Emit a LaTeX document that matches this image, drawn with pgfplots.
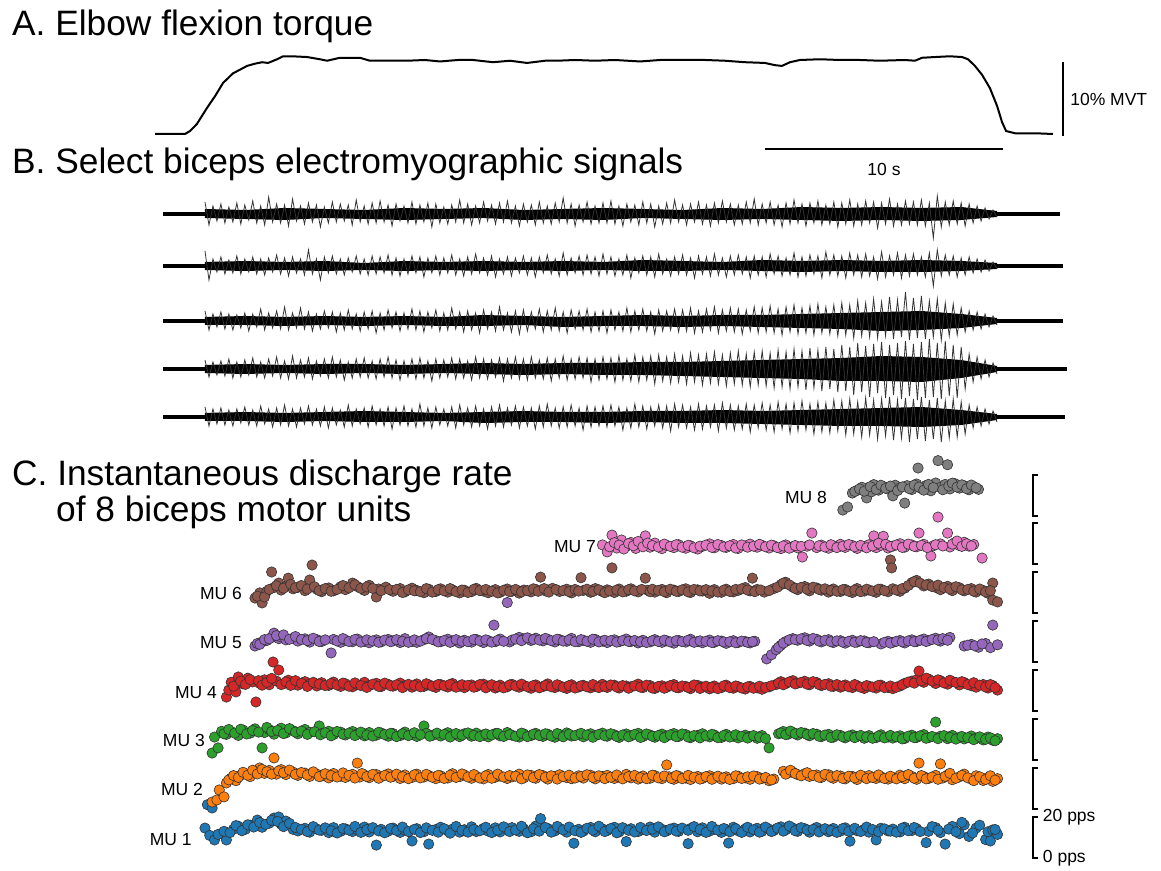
\documentclass[border=0pt]{standalone}
\usepackage{fontspec}
\setmainfont{Liberation Sans}
\usepackage{pgfplots}
\pgfplotsset{compat=1.18}

\definecolor{mua}{HTML}{1F77B4}
\definecolor{mub}{HTML}{FF7F0E}
\definecolor{muc}{HTML}{2CA02C}
\definecolor{mud}{HTML}{D62728}
\definecolor{mue}{HTML}{9467BD}
\definecolor{muf}{HTML}{8C564B}
\definecolor{mug}{HTML}{E377C2}
\definecolor{muh}{HTML}{7F7F7F}

\newcommand\titlefont{\fontsize{35.3}{40}\selectfont}
\newcommand\labfont{\fontsize{17.5}{20}\selectfont}

\pgfplotsset{
  base/.style={scale only axis, hide axis, clip=false},
  tax/.style={base, xmin=0, xmax=40, width=952pt},
  emgax/.style={base, xmin=-10.55, xmax=214.83, width=897pt, ymin=-25, ymax=25, height=50pt},
  muax/.style={tax, ymin=0, ymax=20, height=41pt},
  mup/.style={only marks, mark=*, mark size=5.2pt, mark options={fill=#1, draw=black!80, line width=0.6pt}},
  zig/.style={black!80, line width=0.8pt},
  quiet/.style={black, line width=4pt},
  core/.style={fill=black, draw=none},
}
% scale bracket = 20 pps
\newcommand\bracket{\draw[line width=1.6pt] (axis cs:37.1,20) -- (axis cs:36.89,20) -- (axis cs:36.89,0) -- (axis cs:37.1,0);}

\begin{document}
\begin{tikzpicture}
\useasboundingbox (0,0) rectangle (1161pt,870pt);

\node[anchor=base west, inner sep=0, font=\titlefont] at (12pt,834pt) {A. Elbow flexion torque};
\node[anchor=base west, inner sep=0, font=\titlefont] at (12pt,696pt) {B. Select biceps electromyographic signals};
\node[anchor=base west, inner sep=0, font=\titlefont] at (12pt,384pt) {C. Instantaneous discharge rate};
\node[anchor=base west, inner sep=0, font=\titlefont] at (56pt,348pt) {of 8 biceps motor units};

%% A: torque (% MVT vs s)
\begin{axis}[tax, ymin=-5, ymax=12, height=125.8pt, at={(155pt,699pt)}]
\addplot[black, line width=2pt] coordinates {
(0,0)(1.26,0)(1.47,0.4)(1.76,1.35)(2.18,3.5)(2.52,5.1)(2.86,6.9)(3.28,8.2)(3.87,9.2)(4.2,9.5)
(4.5,9.7)(4.75,9.6)(5.13,10.1)(5.38,10.5)(5.76,10.5)(6.39,10.4)(6.93,10.1)(7.23,9.9)(7.77,10.3)
(8.61,10.3)(9.03,9.9)(9.66,9.9)(10.59,9.9)(11.34,10.0)(11.97,9.8)(12.73,10.0)(13.36,10.0)(14.2,9.7)
(14.92,9.9)(15.63,9.6)(16.39,9.9)(16.89,9.9)(17.65,10.0)(18.49,9.9)(19.33,10.0)(20.38,9.8)(21.22,10.0)
(22.27,10.0)(23.11,10.0)(23.95,9.9)(24.79,9.7)(25.63,9.6)(26.05,9.3)(26.34,9.2)(26.68,9.7)(27.1,10.0)
(27.94,10.1)(28.78,10.0)(29.62,10.0)(30.46,9.9)(31.51,10.0)(31.93,9.9)(32.23,10.3)(32.77,10.4)
(33.4,10.5)(33.91,10.4)(34.16,10.1)(34.45,9.2)(34.75,8.0)(35.08,6.2)(35.38,3.8)(35.59,1.6)
(35.76,0.4)(36.13,0.1)(36.97,0.1)(37.73,0)};
\draw[line width=1.5pt] (axis cs:25.63,-2.03) -- (axis cs:35.63,-2.03);
\node[font=\labfont] at (axis cs:30.63,-4.86) {10 s};
\draw[line width=1.5pt] (axis cs:38.15,9.73) -- (axis cs:38.15,-0.27);
\node[font=\labfont, anchor=west, inner sep=0] at (axis cs:38.45,4.6) {10\% MVT};
\end{axis}

%% B: EMG traces (sample index vs amplitude)
\begin{axis}[emgax, at={(163pt,631pt)}]
\addplot[quiet] coordinates {(-10.55,0)(0,0)};
\addplot[quiet] coordinates {(199,0)(214.8,0)};
\addplot[core] coordinates {(0,5)(10,4)(20,6)(30,5)(40,4)(50,6)(60,5)(70,6)(80,4)(90,5)(100,6)(110,5)(120,4)(130,6)(140,5)(150,7)(160,6)(170,7)(180,6)(190,7)(199,3)
(199,-3)(190,-6)(180,-7)(170,-6)(160,-7)(150,-6)(140,-5)(130,-6)(120,-5)(110,-4)(100,-6)(90,-5)(80,-6)(70,-4)(60,-5)(50,-6)(40,-5)(30,-4)(20,-6)(10,-5)(0,-4)};
\addplot[zig] table[x expr=\coordindex, y=v, row sep=\\] {v\\
12\\-11\\8\\-7\\10\\-9\\7\\-8\\11\\-10\\9\\-6\\13\\-9\\8\\-11\\17\\-8\\10\\-9\\
9\\-12\\15\\-7\\8\\-10\\11\\-8\\9\\-13\\7\\-9\\12\\-8\\10\\-7\\9\\-11\\14\\-8\\
8\\-10\\11\\-9\\13\\-8\\9\\-12\\10\\-7\\8\\-9\\12\\-10\\9\\-8\\11\\-13\\10\\-9\\
7\\-10\\9\\-8\\14\\-9\\10\\-11\\8\\-9\\12\\-7\\9\\-10\\11\\-8\\13\\-9\\8\\-12\\
10\\-8\\9\\-11\\12\\-9\\8\\-10\\11\\-8\\16\\-9\\10\\-12\\9\\-8\\12\\-10\\8\\-9\\
11\\-9\\13\\-10\\8\\-12\\10\\-8\\9\\-11\\12\\-9\\10\\-13\\8\\-10\\11\\-9\\14\\-8\\
9\\-11\\10\\-8\\12\\-10\\9\\-12\\11\\-9\\13\\-8\\10\\-11\\9\\-10\\12\\-9\\15\\-11\\
10\\-9\\12\\-11\\9\\-13\\11\\-10\\14\\-9\\10\\-12\\11\\-9\\13\\-11\\9\\-10\\12\\-13\\
11\\-10\\14\\-12\\10\\-11\\13\\-9\\12\\-14\\11\\-10\\15\\-12\\10\\-11\\13\\-10\\12\\-11\\
14\\-12\\11\\-24\\18\\-13\\12\\-11\\13\\-10\\11\\-12\\10\\-9\\8\\-7\\6\\-5\\4\\-3\\
};
\end{axis}

\begin{axis}[emgax, at={(163pt,579pt)}]
\addplot[quiet] coordinates {(-10.55,0)(0,0)};
\addplot[quiet] coordinates {(199,0)(215.6,0)};
\addplot[core] coordinates {(0,4)(10,5)(20,4)(30,5)(40,3)(50,5)(60,4)(70,5)(80,4)(90,5)(100,4)(110,6)(120,5)(130,4)(140,6)(150,5)(160,6)(170,5)(180,6)(190,5)(199,3)
(199,-3)(190,-5)(180,-6)(170,-6)(160,-5)(150,-6)(140,-5)(130,-4)(120,-5)(110,-5)(100,-4)(90,-5)(80,-4)(70,-5)(60,-4)(50,-5)(40,-4)(30,-5)(20,-4)(10,-5)(0,-4)};
\addplot[zig] table[x expr=\coordindex, y=v, row sep=\\] {v\\
15\\-14\\7\\-6\\9\\-8\\6\\-7\\10\\-8\\7\\-6\\9\\-8\\7\\-9\\8\\-6\\11\\-8\\
8\\-10\\9\\-7\\7\\-9\\16\\-8\\7\\-14\\9\\-7\\10\\-8\\7\\-9\\8\\-6\\10\\-8\\
7\\-9\\10\\-8\\9\\-7\\11\\-9\\8\\-10\\7\\-8\\10\\-7\\9\\-11\\8\\-7\\10\\-9\\
8\\-7\\11\\-9\\7\\-10\\9\\-8\\12\\-7\\8\\-9\\10\\-11\\7\\-8\\9\\-10\\8\\-7\\
10\\-9\\8\\-11\\9\\-7\\11\\-8\\7\\-10\\13\\-9\\8\\-7\\10\\-9\\11\\-8\\9\\-10\\
12\\-8\\9\\-10\\7\\-9\\11\\-12\\8\\-7\\10\\-9\\9\\-11\\12\\-8\\7\\-10\\9\\-8\\
11\\-9\\8\\-12\\10\\-8\\9\\-10\\12\\-9\\8\\-11\\10\\-9\\11\\-8\\9\\-12\\10\\-9\\
9\\-11\\12\\-8\\10\\-10\\8\\-9\\13\\-11\\9\\-10\\11\\-8\\10\\-12\\14\\-9\\11\\-10\\
10\\-12\\13\\-9\\11\\-11\\12\\-10\\9\\-13\\14\\-11\\10\\-9\\13\\-12\\11\\-10\\12\\-9\\
9\\-11\\13\\-20\\16\\-10\\11\\-9\\10\\-11\\8\\-9\\9\\-7\\7\\-6\\6\\-5\\4\\-3\\
};
\end{axis}

\begin{axis}[emgax, at={(163pt,524pt)}]
\addplot[quiet] coordinates {(-10.55,0)(0,0)};
\addplot[quiet] coordinates {(199,0)(215.6,0)};
\addplot[core] coordinates {(0,4)(10,5)(20,4)(30,5)(40,4)(50,5)(60,4)(70,6)(80,5)(90,4)(100,5)(110,6)(120,5)(130,6)(140,6)(150,7)(160,8)(170,9)(180,10)(190,7)(199,3)
(199,-3)(190,-7)(180,-9)(170,-10)(160,-8)(150,-7)(140,-6)(130,-5)(120,-6)(110,-5)(100,-5)(90,-6)(80,-4)(70,-5)(60,-5)(50,-4)(40,-5)(30,-4)(20,-5)(10,-4)(0,-4)};
\addplot[zig] table[x expr=\coordindex, y=v, row sep=\\] {v\\
10\\-9\\7\\-6\\9\\-8\\7\\-9\\6\\-7\\8\\-10\\7\\-6\\12\\-9\\8\\-7\\10\\-8\\
14\\-9\\8\\-7\\13\\-8\\9\\-10\\7\\-8\\10\\-7\\9\\-11\\8\\-9\\11\\-8\\7\\-10\\
9\\-8\\10\\-12\\8\\-9\\11\\-7\\9\\-10\\8\\-8\\12\\-9\\10\\-11\\9\\-7\\11\\-10\\
8\\-9\\13\\-8\\9\\-11\\10\\-9\\8\\-12\\11\\-8\\9\\-10\\14\\-9\\8\\-11\\10\\-13\\
11\\-10\\9\\-8\\12\\-11\\10\\-9\\13\\-10\\9\\-12\\11\\-8\\10\\-9\\12\\-11\\9\\-10\\
10\\-12\\11\\-9\\9\\-10\\13\\-11\\10\\-9\\12\\-10\\9\\-13\\11\\-10\\10\\-9\\12\\-11\\
11\\-10\\13\\-12\\10\\-11\\12\\-9\\14\\-12\\11\\-10\\13\\-11\\12\\-13\\11\\-10\\14\\-12\\
13\\-11\\15\\-12\\12\\-14\\14\\-11\\16\\-13\\13\\-12\\15\\-14\\17\\-12\\14\\-13\\16\\-15\\
18\\-14\\16\\-17\\20\\-15\\18\\-16\\22\\-17\\19\\-15\\24\\-18\\21\\-16\\29\\-19\\23\\-17\\
25\\-18\\20\\-16\\22\\-19\\18\\-15\\17\\-14\\13\\-11\\10\\-9\\9\\-8\\7\\-6\\5\\-4\\
};
\end{axis}

\begin{axis}[emgax, at={(163pt,476pt)}]
\addplot[quiet] coordinates {(-10.55,0)(0,0)};
\addplot[quiet] coordinates {(199,0)(216.6,0)};
\addplot[core] coordinates {(0,4)(10,5)(20,4)(30,5)(40,5)(50,4)(60,5)(70,6)(80,5)(90,6)(100,6)(110,7)(120,7)(130,8)(140,9)(150,10)(160,11)(170,13)(180,12)(190,9)(199,3)
(199,-3)(190,-9)(180,-13)(170,-12)(160,-12)(150,-10)(140,-9)(130,-8)(120,-7)(110,-6)(100,-6)(90,-5)(80,-6)(70,-5)(60,-4)(50,-5)(40,-4)(30,-5)(20,-4)(10,-5)(0,-4)};
\addplot[zig] table[x expr=\coordindex, y=v, row sep=\\] {v\\
9\\-8\\7\\-6\\8\\-7\\10\\-9\\7\\-8\\9\\-6\\11\\-8\\7\\-9\\10\\-7\\12\\-9\\
8\\-10\\13\\-9\\9\\-8\\11\\-10\\8\\-7\\10\\-9\\12\\-8\\9\\-11\\7\\-9\\10\\-8\\
11\\-9\\8\\-10\\10\\-8\\12\\-9\\9\\-11\\8\\-8\\10\\-10\\11\\-9\\8\\-12\\10\\-9\\
9\\-8\\11\\-10\\10\\-9\\8\\-11\\12\\-9\\10\\-10\\9\\-8\\11\\-12\\10\\-9\\12\\-10\\
10\\-11\\12\\-9\\9\\-10\\11\\-12\\10\\-9\\13\\-11\\10\\-10\\12\\-9\\11\\-13\\10\\-11\\
12\\-10\\11\\-13\\13\\-11\\10\\-12\\14\\-13\\12\\-11\\13\\-15\\14\\-12\\12\\-14\\15\\-13\\
13\\-15\\16\\-13\\14\\-16\\15\\-14\\17\\-15\\14\\-17\\16\\-15\\18\\-16\\15\\-18\\17\\-16\\
18\\-17\\16\\-19\\19\\-18\\17\\-20\\20\\-18\\18\\-21\\21\\-19\\19\\-22\\22\\-20\\20\\-23\\
24\\-22\\22\\-26\\26\\-23\\23\\-28\\25\\-24\\27\\-29\\24\\-26\\26\\-30\\28\\-27\\25\\-31\\
27\\-29\\30\\-28\\26\\-30\\28\\-27\\24\\-29\\22\\-20\\15\\-13\\12\\-10\\9\\-8\\6\\-5\\
};
\end{axis}

\begin{axis}[emgax, at={(163pt,428pt)}]
\addplot[quiet] coordinates {(-10.55,0)(0,0)};
\addplot[quiet] coordinates {(199,0)(216.1,0)};
\addplot[core] coordinates {(0,4)(10,5)(20,4)(30,5)(40,6)(50,5)(60,4)(70,5)(80,6)(90,5)(100,5)(110,6)(120,6)(130,7)(140,6)(150,7)(160,8)(170,9)(180,10)(190,7)(199,3)
(199,-3)(190,-8)(180,-10)(170,-9)(160,-9)(150,-8)(140,-7)(130,-6)(120,-6)(110,-5)(100,-6)(90,-5)(80,-5)(70,-6)(60,-4)(50,-5)(40,-5)(30,-4)(20,-5)(10,-4)(0,-4)};
\addplot[zig] table[x expr=\coordindex, y=v, row sep=\\] {v\\
10\\-9\\8\\-7\\9\\-8\\7\\-9\\8\\-6\\10\\-8\\7\\-9\\11\\-7\\8\\-10\\9\\-8\\
12\\-9\\8\\-10\\9\\-7\\11\\-8\\8\\-9\\10\\-11\\9\\-8\\7\\-10\\12\\-9\\8\\-7\\
9\\-10\\11\\-8\\8\\-9\\10\\-12\\9\\-8\\11\\-9\\8\\-10\\13\\-9\\9\\-11\\10\\-8\\
8\\-9\\10\\-11\\12\\-8\\9\\-10\\11\\-9\\8\\-12\\10\\-9\\12\\-10\\9\\-8\\11\\-11\\
10\\-9\\9\\-12\\11\\-10\\13\\-9\\9\\-11\\10\\-10\\12\\-9\\9\\-13\\11\\-10\\10\\-9\\
11\\-10\\12\\-9\\10\\-13\\9\\-11\\13\\-10\\11\\-12\\10\\-9\\12\\-11\\11\\-14\\13\\-10\\
12\\-11\\10\\-13\\13\\-12\\11\\-10\\12\\-14\\14\\-11\\12\\-13\\11\\-12\\13\\-15\\12\\-11\\
14\\-13\\12\\-15\\15\\-12\\13\\-16\\14\\-14\\16\\-13\\13\\-17\\15\\-15\\14\\-16\\17\\-14\\
16\\-18\\18\\-17\\15\\-20\\19\\-18\\17\\-22\\18\\-19\\20\\-23\\17\\-21\\19\\-25\\18\\-22\\
20\\-24\\17\\-22\\19\\-25\\16\\-21\\18\\-20\\15\\-17\\12\\-11\\10\\-9\\8\\-7\\6\\-5\\
};
\end{axis}

%% C: instantaneous discharge rate (pps vs s), one axis per motor unit
\begin{axis}[muax, at={(155pt,12pt)}]
\addplot[mup=mua] coordinates {
(2.1,14.6)(2.2,26)(2.3,11)(2.4,24.4)(2.5,8.8)(2.8,12)(3.0,8.8)(3.3,14)(3.5,15.5)(3.8,14)(4.0,16)(4.3,18.5)(4.5,15)(4.8,17)(5.0,19.5)(5.2,20)(5.3,16.5)(5.5,18)(5.8,14)
(6.0,13.2)(6.3,14.5)(6.5,12.6)(6.8,14.1)(7.0,13.5)(7.3,12.4)(7.5,14.8)(7.8,13.0)(8.0,14.2)(8.3,12.9)(8.5,13.8)(8.8,15.1)
(9.0,12.7)(9.3,6.3)(9.5,14.0)(9.8,13.1)(10.0,14.6)(10.3,12.5)(10.5,13.6)(10.8,8.3)(11.0,14.3)(11.3,12.8)(11.5,6.8)(11.8,13.9)
(12.0,15.0)(12.3,13.2)(12.5,14.1)(12.8,12.6)(13.0,13.8)(13.3,15.2)(13.5,12.9)(13.8,14.4)(14.0,13.1)(14.3,14.7)(14.5,12.7)(14.8,13.9)
(15.0,14.8)(15.3,13.0)(15.5,14.2)(15.8,12.8)(16.0,15.6)(16.2,19.2)(16.5,14.4)(16.8,13.2)(17.0,14.5)(17.3,12.6)(17.6,7.2)(17.8,14.0)
(18.0,13.1)(18.3,14.9)(18.5,12.8)(18.8,14.2)(19.0,13.4)(19.3,15.0)(19.5,12.7)(19.8,8.0)(20.0,14.3)(20.3,12.9)(20.5,13.8)(20.8,15.1)
(21.0,12.6)(21.3,14.0)(21.5,13.2)(21.8,14.6)(22.0,13.0)(22.4,7.0)(22.5,14.4)(22.8,12.8)(23.0,14.7)(23.3,13.1)(23.5,14.0)(23.8,12.5)
(24.0,13.9)(24.1,7.3)(24.3,15.0)(24.5,13.3)(24.8,14.2)(25.0,12.7)(25.3,14.5)(25.5,13.0)(25.8,14.1)(26.0,13.4)(26.3,15.2)(26.5,13.7)(26.8,14.6)
(27.0,13.0)(27.3,14.3)(27.5,12.6)(27.8,14.9)(28.0,13.5)(28.3,12.8)(28.5,14.4)(28.8,13.1)(29.0,14.7)(29.2,8.2)(29.5,13.3)(29.8,14.0)
(30.0,12.6)(30.3,8.8)(30.5,14.5)(30.8,13.2)(31.0,14.1)(31.3,12.7)(31.5,15.0)(31.8,13.4)(32.0,14.3)(32.4,7.5)(32.5,13.0)(32.8,14.8)
(33.0,12.4)(33.2,6.8)(33.5,15.4)(33.8,11.9)(34.0,16.2)(34.2,10.5)(34.5,14.6)(34.9,9.0)(35.0,12.8)(35.1,8.3)(35.2,13.7)(35.4,11.5)};
\addplot[mup=mua] coordinates {
(2.65,11.5)(2.9,13)(3.15,12.4)(3.4,15.8)(3.65,13.3)(3.9,16.2)(4.15,15.1)(4.4,17.3)(4.65,16.4)(4.9,18.4)(5.15,17.8)(5.4,15.3)(5.65,16.9)(5.9,14.9)
(6.15,14.0)(6.4,12.9)(6.65,15.3)(6.9,13.6)(7.15,14.7)(7.4,13.3)(7.65,12.2)(7.9,14.4)(8.15,13.6)(8.4,15.4)(8.65,12.5)(8.9,13.9)
(9.15,14.8)(9.4,13.2)(9.65,12.3)(9.9,14.4)(10.15,13.4)(10.4,15.1)(10.65,12.9)(10.9,14.0)(11.15,12.4)(11.4,14.7)(11.65,13.5)(11.9,12.6)
(12.15,14.3)(12.4,12.1)(12.65,15.4)(12.9,13.5)(13.15,12.6)(13.4,14.0)(13.65,13.3)(13.9,15.0)(14.15,12.4)(14.4,13.6)(14.65,15.2)(14.9,12.9)
(15.15,13.7)(15.4,15.5)(15.65,12.3)(15.9,14.3)(16.15,13.1)(16.4,14.9)(16.65,12.6)(16.9,15.4)(17.15,13.7)(17.4,15.1)(17.65,13.3)(17.9,12.5)
(18.15,14.5)(18.4,13.6)(18.65,15.5)(18.9,12.9)(19.15,14.4)(19.4,12.3)(19.65,14.8)(19.9,13.5)(20.15,12.7)(20.4,14.9)(20.65,13.4)(20.9,14.1)
(21.15,15.2)(21.4,12.8)(21.65,14.1)(21.9,13.1)(22.15,14.6)(22.4,13.5)(22.65,15.3)(22.9,13.9)(23.15,12.5)(23.4,15.4)(23.65,13.6)(23.9,14.4)
(24.15,12.8)(24.4,14.3)(24.65,12.5)(24.9,15.0)(25.15,13.8)(25.4,12.6)(25.65,15.1)(25.9,12.9)(26.15,14.6)(26.4,13.1)(26.65,15.6)(26.9,13.3)
(27.15,14.8)(27.4,13.7)(27.65,14.0)(27.9,12.7)(28.15,14.3)(28.4,13.4)(28.65,12.5)(28.9,14.4)(29.15,13.0)(29.4,14.5)(29.65,12.9)(29.9,15.1)
(30.15,13.9)(30.4,12.8)(30.65,14.2)(30.9,13.1)(31.15,12.6)(31.4,14.6)(31.65,13.3)(31.9,14.9)(32.15,12.9)(32.65,15.3)(32.9,13.6)
(33.35,14.1)(33.65,12.8)(33.9,17.4)(34.35,12.2)(34.65,16.0)(35.3,13.9)};
\bracket
\node[font=\labfont, anchor=east, inner sep=0] at (axis cs:1.55,8.8) {MU 1};
\node[font=\labfont, anchor=west, inner sep=0] at (axis cs:37.3,20) {20 pps};
\node[font=\labfont, anchor=west, inner sep=0] at (axis cs:37.3,0) {0 pps};
\end{axis}

\begin{axis}[muax, at={(155pt,61pt)}]
\addplot[mup=mub] coordinates {
(2.4,3.4)(2.6,4.4)(2.7,9.3)(2.9,5.9)(3.0,12.7)(3.2,15.0)(3.4,13.8)(3.6,16.5)(3.8,17.2)(4.0,15.8)(4.2,18.5)(4.4,20.0)(4.6,17.4)(4.8,18.8)(5.0,24.9)(5.1,17.0)(5.3,19.2)(5.5,16.8)(5.8,18.0)
(6.0,16.4)(6.3,17.5)(6.5,15.9)(6.8,17.0)(7.0,16.1)(7.3,15.2)(7.5,17.3)(7.8,16.0)(8.0,15.4)(8.3,16.9)(8.5,22.4)(8.6,15.6)(8.8,16.6)
(9.0,15.3)(9.3,16.8)(9.5,15.7)(9.8,17.1)(10.0,15.9)(10.3,14.9)(10.5,16.6)(10.8,15.4)(11.0,17.0)(11.3,15.6)(11.5,16.3)(11.8,14.8)
(12.0,16.2)(12.3,15.1)(12.5,17.2)(12.8,15.8)(13.0,16.6)(13.3,15.0)(13.5,16.0)(13.8,14.7)(14.0,16.8)(14.3,15.5)(14.5,16.1)(14.8,14.9)
(15.0,15.7)(15.3,17.0)(15.5,15.2)(15.8,16.4)(16.0,15.0)(16.3,16.3)(16.5,14.6)(16.8,15.9)(17.0,16.7)(17.3,15.3)(17.5,14.8)(17.8,16.2)
(18.0,15.1)(18.3,16.5)(18.5,14.7)(18.8,15.8)(19.0,16.4)(19.3,14.9)(19.5,15.6)(19.8,16.9)(20.0,15.2)(20.3,14.6)(20.5,16.1)(20.8,15.0)
(21.0,16.3)(21.3,14.8)(21.5,21.5)(21.6,15.7)(21.8,14.5)(22.0,16.0)(22.3,15.1)(22.5,14.4)(22.8,15.9)(23.0,14.9)(23.3,16.2)(23.5,15.3)(23.8,14.6)
(24.0,15.7)(24.3,14.8)(24.5,16.0)(24.8,15.2)(25.0,14.5)(25.3,15.8)(25.5,14.9)(25.8,13.8)(26.0,14.6)(26.4,18.4)(26.6,17.6)(26.8,18.0)
(27.0,16.8)(27.3,17.2)(27.5,15.9)(27.8,16.6)(28.0,15.4)(28.3,16.7)(28.5,15.0)(28.8,16.1)(29.0,14.7)(29.3,15.9)(29.5,14.4)(29.8,15.6)
(30.0,16.3)(30.3,14.9)(30.5,15.7)(30.8,14.6)(31.0,15.4)(31.3,16.5)(31.5,14.8)(31.8,15.9)(32.0,14.5)(32.1,22.4)(32.3,15.8)(32.5,14.9)(32.8,16.4)
(33.0,22.0)(33.1,15.1)(33.3,16.6)(33.5,14.3)(33.8,15.7)(34.0,17.0)(34.3,14.6)(34.5,16.2)(34.8,13.9)(35.0,15.4)(35.2,13.5)(35.4,14.8)};
\addplot[mup=mub] coordinates {
(3.1,14.2)(3.3,16.3)(3.5,15.4)(3.7,17.9)(3.9,16.5)(4.1,18.9)(4.3,17.1)(4.5,19.3)(4.7,18.2)(4.9,17.0)(5.2,18.6)(5.4,17.7)(5.65,19.0)(5.9,16.9)
(6.15,17.8)(6.4,16.6)(6.65,18.1)(6.9,15.8)(7.15,17.2)(7.4,16.3)(7.65,15.6)(7.9,17.6)(8.15,16.4)(8.4,15.1)(8.7,17.3)(8.9,15.8)
(9.15,16.9)(9.4,15.0)(9.65,16.4)(9.9,15.5)(10.15,17.0)(10.4,15.8)(10.65,14.8)(10.9,16.7)(11.15,15.2)(11.4,16.9)(11.65,15.5)(11.9,16.4)
(12.15,14.9)(12.4,16.5)(12.65,15.4)(12.9,17.1)(13.15,15.6)(13.4,16.8)(13.65,15.1)(13.9,16.2)(14.15,15.0)(14.4,17.0)(14.65,15.6)(14.9,16.3)
(15.15,16.0)(15.4,14.7)(15.65,16.6)(15.9,15.3)(16.15,16.8)(16.4,15.5)(16.65,16.2)(16.9,14.6)(17.15,15.8)(17.4,16.5)(17.65,15.1)(17.9,15.9)
(18.15,16.7)(18.4,15.4)(18.65,16.2)(18.9,14.8)(19.15,15.5)(19.4,16.6)(19.65,14.7)(19.9,15.8)(20.15,16.4)(20.4,15.3)(20.65,14.8)(20.9,16.5)
(21.15,15.2)(21.4,16.1)(21.7,14.9)(21.9,16.3)(22.15,14.8)(22.4,16.4)(22.65,15.5)(22.9,14.6)(23.15,15.8)(23.4,14.5)(23.65,16.0)(23.9,15.2)
(24.15,14.4)(24.4,16.2)(24.65,14.9)(24.9,15.7)(25.15,16.1)(25.4,14.6)(25.65,15.4)(25.9,14.2)(26.5,17.0)(26.7,18.9)(26.9,17.3)
(27.15,16.2)(27.4,17.7)(27.65,16.4)(27.9,15.5)(28.15,16.9)(28.4,15.6)(28.65,16.3)(28.9,14.9)(29.15,16.0)(29.4,15.2)(29.65,16.5)(29.9,14.8)
(30.15,15.4)(30.4,16.6)(30.65,14.9)(30.9,16.0)(31.15,14.7)(31.4,15.8)(31.65,16.8)(31.9,15.0)(32.2,16.3)(32.4,14.7)(32.65,15.6)(32.9,14.5)
(33.2,15.9)(33.4,17.4)(33.65,15.0)(33.9,16.4)(34.15,15.2)(34.4,13.8)(34.65,15.7)(34.9,14.4)(35.1,16.2)(35.3,14.1)};
\bracket
\node[font=\labfont, anchor=east, inner sep=0] at (axis cs:2.02,9.3) {MU 2};
\end{axis}

\begin{axis}[muax, at={(155pt,110pt)}]
\addplot[mup=muc] coordinates {
(2.4,3.4)(2.5,11.2)(2.65,5.9)(2.8,14.0)(3.0,12.5)(3.2,13.8)(3.5,12.0)(3.7,14.6)(4.0,13.1)(4.2,15.2)(4.5,5.9)(4.6,13.4)(4.8,14.8)(5.0,12.6)(5.3,15.5)(5.5,13.2)(5.8,14.3)
(6.0,12.8)(6.3,14.9)(6.5,13.5)(6.9,16.6)(7.0,12.9)(7.3,14.0)(7.5,12.4)(7.8,13.6)(8.0,12.2)(8.3,13.9)(8.5,12.7)(8.8,11.8)
(9.0,13.4)(9.3,12.1)(9.5,13.2)(9.8,11.6)(10.0,12.9)(10.3,11.9)(10.5,13.6)(10.8,12.4)(11.0,11.5)(11.3,16.6)(11.4,13.0)(11.7,12.2)
(12.0,11.7)(12.3,13.3)(12.5,12.0)(12.8,11.4)(13.0,12.8)(13.3,11.6)(13.5,13.1)(13.8,12.3)(14.0,11.3)(14.3,12.9)(14.5,11.8)(14.8,13.4)
(15.0,12.1)(15.3,11.2)(15.5,12.7)(15.8,11.9)(16.0,13.0)(16.3,11.5)(16.5,12.6)(16.8,11.1)(17.0,12.4)(17.3,13.2)(17.5,11.7)(17.8,12.5)
(18.0,11.3)(18.3,12.8)(18.5,11.9)(18.8,13.1)(19.0,11.6)(19.3,12.3)(19.5,11.0)(19.8,12.7)(20.0,11.8)(20.3,13.0)(20.5,11.4)(20.8,12.2)
(21.0,11.1)(21.3,12.6)(21.5,11.7)(21.8,12.9)(22.0,11.5)(22.3,12.4)(22.5,10.9)(22.8,12.0)(23.0,12.8)(23.3,11.3)(23.5,12.2)(23.8,11.0)
(24.0,12.5)(24.3,11.6)(24.5,10.8)(24.8,12.1)(25.0,11.4)(25.3,10.6)(25.5,11.9)(25.8,5.9)(26.2,12.8)(26.4,13.9)(26.6,12.6)(26.8,13.5)
(27.0,12.2)(27.3,13.1)(27.5,11.8)(27.8,12.6)(28.0,11.4)(28.3,12.5)(28.5,11.1)(28.8,12.0)(29.0,10.8)(29.3,12.2)(29.5,11.5)(29.8,10.6)
(30.0,11.9)(30.3,10.9)(30.5,12.3)(30.8,11.2)(31.0,10.7)(31.3,11.8)(31.5,10.5)(31.8,12.1)(32.0,11.0)(32.3,12.4)(32.5,10.9)(32.8,18.5)
(33.0,11.6)(33.3,10.4)(33.5,12.0)(33.8,11.1)(34.0,10.3)(34.3,11.7)(34.5,10.6)(34.8,9.8)(35.0,11.2)(35.2,9.6)(35.4,10.4)};
\addplot[mup=muc] coordinates {
(2.9,12.8)(3.1,14.9)(3.35,13.1)(3.6,15.0)(3.85,12.7)(4.1,14.4)(4.35,13.6)(4.7,15.9)(4.9,13.9)(5.15,14.4)(5.4,12.9)(5.65,15.3)(5.9,13.6)
(6.15,14.1)(6.4,12.5)(6.7,13.8)(6.95,12.3)(7.15,13.3)(7.4,11.8)(7.65,13.9)(7.9,12.6)(8.15,13.1)(8.4,11.9)(8.65,13.6)(8.9,12.2)
(9.15,11.7)(9.4,13.5)(9.65,12.4)(9.9,13.0)(10.15,11.4)(10.4,12.8)(10.65,11.9)(10.9,13.3)(11.15,12.3)(11.55,11.6)(11.85,13.1)
(12.15,12.5)(12.4,11.2)(12.65,12.9)(12.9,12.1)(13.15,13.2)(13.4,12.0)(13.65,11.4)(13.9,12.7)(14.15,12.2)(14.4,13.0)(14.65,11.5)(14.9,12.4)
(15.15,11.6)(15.4,13.1)(15.65,11.4)(15.9,12.6)(16.15,11.9)(16.4,12.8)(16.65,11.7)(16.9,12.9)(17.15,11.3)(17.4,12.6)(17.65,11.9)(17.9,13.0)
(18.15,12.2)(18.4,11.1)(18.65,12.5)(18.9,11.8)(19.15,12.8)(19.4,11.5)(19.65,12.2)(19.9,11.3)(20.15,12.5)(20.4,11.0)(20.65,12.7)(20.9,11.6)
(21.15,12.0)(21.4,10.9)(21.65,12.3)(21.9,11.4)(22.15,12.7)(22.4,11.2)(22.65,11.9)(22.9,10.8)(23.15,11.8)(23.4,12.5)(23.65,10.9)(23.9,12.0)
(24.15,11.2)(24.4,12.3)(24.65,11.5)(24.9,10.7)(25.15,11.9)(25.4,11.1)(25.65,10.5)(26.3,13.2)(26.5,12.4)(26.7,14.1)(26.9,12.8)
(27.15,13.4)(27.4,12.4)(27.65,12.9)(27.9,11.6)(28.15,12.2)(28.4,11.0)(28.65,12.3)(28.9,11.3)(29.15,11.7)(29.4,10.9)(29.65,12.0)(29.9,11.2)
(30.15,10.6)(30.4,11.7)(30.65,10.8)(30.9,12.0)(31.15,11.3)(31.4,10.3)(31.65,11.6)(31.9,10.9)(32.15,11.8)(32.4,10.6)(32.65,11.5)(32.9,10.4)
(33.15,11.9)(33.4,11.0)(33.65,10.2)(33.9,11.5)(34.15,10.9)(34.4,9.9)(34.65,11.3)(34.9,10.1)(35.1,10.8)(35.3,9.4)};
\bracket
\node[font=\labfont, anchor=east, inner sep=0] at (axis cs:2.1,9.3) {MU 3};
\end{axis}

\begin{axis}[muax, at={(155pt,159pt)}]
\addplot[mup=mud] coordinates {
(3.0,6.8)(3.1,10.2)(3.2,14.0)(3.4,9.3)(3.5,16.6)(3.7,13.2)(3.9,16.0)(4.1,14.2)(4.24,4.4)(4.4,13.5)(4.6,15.2)(4.8,12.8)(4.96,23.9)(5.1,14.6)(5.2,20.0)(5.4,13.3)(5.6,15.0)(5.8,13.9)
(6.0,12.6)(6.3,14.3)(6.5,13.1)(6.8,12.2)(7.0,13.8)(7.3,12.5)(7.5,14.1)(7.8,12.0)(8.0,13.3)(8.3,11.8)(8.5,12.9)(8.8,14.0)
(9.0,12.4)(9.3,13.5)(9.5,11.9)(9.8,13.0)(10.0,12.1)(10.3,13.6)(10.5,12.3)(10.8,11.6)(11.0,13.2)(11.3,12.0)(11.5,12.8)(11.8,11.5)
(12.0,12.9)(12.3,11.7)(12.5,13.4)(12.8,12.2)(13.0,11.4)(13.3,12.7)(13.5,11.9)(13.8,13.1)(14.0,12.0)(14.3,11.2)(14.5,12.6)(14.8,11.8)
(15.0,13.0)(15.3,11.6)(15.5,12.4)(15.8,11.1)(16.0,12.7)(16.3,11.9)(16.5,13.2)(16.8,11.4)(17.0,12.3)(17.3,11.0)(17.5,12.8)(17.8,11.7)
(18.0,12.5)(18.3,11.3)(18.5,12.1)(18.8,13.0)(19.0,11.5)(19.3,12.6)(19.5,11.2)(19.8,12.2)(20.0,11.8)(20.3,13.1)(20.5,11.4)(20.8,12.4)
(21.0,11.0)(21.3,12.3)(21.5,11.6)(21.8,12.9)(22.0,11.3)(22.3,12.0)(22.5,10.9)(22.8,12.5)(23.0,11.7)(23.3,10.8)(23.5,12.2)(23.8,11.4)
(24.0,12.6)(24.3,11.1)(24.5,11.9)(24.8,10.7)(25.0,12.0)(25.3,11.3)(25.5,10.6)(25.8,11.8)(26.1,12.9)(26.3,14.3)(26.5,13.4)(26.8,14.8)
(27.0,13.6)(27.3,14.5)(27.5,12.8)(27.8,13.9)(28.0,12.4)(28.3,13.3)(28.5,12.0)(28.8,11.6)(29.0,12.7)(29.3,11.4)(29.5,12.3)(29.8,11.0)
(30.0,12.1)(30.3,11.2)(30.5,12.6)(30.8,11.5)(31.0,10.9)(31.3,12.2)(31.5,13.5)(31.8,14.6)(32.0,15.2)(32.1,19.5)(32.3,14.0)(32.5,15.6)(32.8,13.4)
(33.0,14.8)(33.3,13.1)(33.5,14.4)(33.8,12.7)(34.0,13.9)(34.3,12.3)(34.5,11.6)(34.8,12.9)(35.0,11.2)(35.2,12.4)(35.4,10.2)};
\addplot[mup=mud] coordinates {
(3.3,12.1)(3.6,14.6)(3.8,13.0)(4.0,15.3)(4.35,14.8)(4.5,12.6)(4.7,14.0)(4.9,15.9)(5.3,12.9)(5.5,14.2)(5.7,12.5)(5.9,14.8)
(6.15,13.5)(6.4,12.0)(6.65,14.0)(6.9,13.2)(7.15,12.4)(7.4,13.4)(7.65,12.7)(7.9,13.6)(8.15,12.1)(8.4,13.7)(8.65,12.4)(8.9,11.5)
(9.15,13.1)(9.4,12.0)(9.65,13.6)(9.9,12.3)(10.15,12.8)(10.4,11.4)(10.65,13.0)(10.9,12.5)(11.15,11.8)(11.4,13.3)(11.65,12.1)(11.9,12.9)
(12.15,12.3)(12.4,13.0)(12.65,11.6)(12.9,12.8)(13.15,12.5)(13.4,11.6)(13.65,12.9)(13.9,11.3)(14.15,12.8)(14.4,11.9)(14.65,11.3)(14.9,12.7)
(15.15,12.2)(15.4,13.1)(15.65,11.8)(15.9,12.4)(16.15,11.3)(16.4,12.5)(16.65,11.8)(16.9,12.8)(17.15,11.6)(17.4,12.4)(17.65,11.2)(17.9,12.3)
(18.15,11.8)(18.4,12.9)(18.65,11.4)(18.9,12.0)(19.15,12.7)(19.4,11.7)(19.65,12.4)(19.9,11.1)(20.15,12.3)(20.4,11.6)(20.65,12.6)(20.9,11.2)
(21.15,12.0)(21.4,11.1)(21.65,12.4)(21.9,11.5)(22.15,12.2)(22.4,11.5)(22.65,12.7)(22.9,11.0)(23.15,12.1)(23.4,11.6)(23.65,10.9)(23.9,12.3)
(24.15,11.4)(24.4,12.2)(24.65,11.2)(24.9,11.8)(25.15,11.1)(25.4,12.1)(25.65,11.4)(25.9,12.3)(26.2,13.6)(26.4,12.8)(26.65,14.2)(26.9,13.2)
(27.15,14.0)(27.4,13.1)(27.65,14.3)(27.9,12.9)(28.15,13.0)(28.4,12.1)(28.65,12.9)(28.9,12.2)(29.15,11.8)(29.4,12.9)(29.65,11.6)(29.9,12.4)
(30.15,11.7)(30.4,12.5)(30.65,11.4)(30.9,12.2)(31.15,11.6)(31.4,12.8)(31.65,14.1)(31.9,13.6)(32.2,14.7)(32.4,16.0)(32.65,14.6)(32.9,15.2)
(33.15,13.7)(33.4,15.0)(33.65,13.9)(33.9,14.3)(34.15,12.9)(34.4,13.8)(34.65,12.6)(34.9,11.7)(35.1,12.9)(35.3,11.4)};
\bracket
\node[font=\labfont, anchor=east, inner sep=0] at (axis cs:2.61,8.8) {MU 4};
\end{axis}

\begin{axis}[muax, at={(155pt,208pt)}]
\addplot[mup=mue] coordinates {
(4.2,7.8)(4.3,9.0)(4.5,9.8)(4.7,10.5)(4.9,12.0)(5.0,14.1)(5.2,11.4)(5.3,12.2)(5.5,10.8)(5.8,11.6)
(6.0,10.2)(6.3,11.3)(6.5,9.7)(6.8,10.9)(7.0,10.0)(7.4,4.4)(7.5,11.0)(7.8,9.6)(8.0,10.7)(8.3,9.9)(8.5,11.2)(8.8,10.1)
(9.0,9.4)(9.3,10.8)(9.5,9.8)(9.8,11.0)(10.0,10.3)(10.3,9.5)(10.5,11.4)(10.8,10.0)(11.0,9.6)(11.3,10.9)(11.5,12.2)(11.8,10.4)
(12.0,9.9)(12.3,11.1)(12.5,10.2)(12.8,9.3)(13.0,10.6)(13.3,9.7)(13.5,11.0)(13.8,9.5)(14.0,10.4)(14.24,18.0)(14.3,9.9)(14.5,11.2)(14.8,29.0)(14.9,9.8)
(15.0,10.7)(15.3,12.0)(15.5,11.3)(15.8,10.5)(16.0,11.6)(16.3,10.3)(16.5,11.1)(16.8,9.8)(17.0,10.9)(17.3,10.1)(17.5,11.5)(17.8,9.9)
(18.0,10.6)(18.3,9.6)(18.5,11.0)(18.8,10.2)(19.0,9.5)(19.3,10.8)(19.5,9.9)(19.8,11.2)(20.0,10.0)(20.3,9.3)(20.5,10.6)(20.8,9.8)
(21.0,10.9)(21.3,9.6)(21.5,10.3)(21.8,9.2)(22.0,10.5)(22.3,9.7)(22.5,11.1)(22.8,10.0)(23.0,9.4)(23.3,10.7)(23.5,9.6)(23.8,10.2)
(24.0,9.1)(24.3,10.4)(24.5,9.5)(24.8,10.0)(25.0,9.3)(25.2,10.1)(25.7,1.5)(25.9,3.5)(26.1,6.0)(26.3,8.2)(26.5,10.0)(26.8,11.4)
(27.0,10.6)(27.3,11.8)(27.5,10.2)(27.8,11.1)(28.0,9.8)(28.3,10.9)(28.5,9.5)(28.8,10.4)(29.0,9.2)(29.3,10.6)(29.5,9.7)(29.8,10.3)
(30.0,9.4)(30.5,8.8)(30.8,10.1)(31.0,9.6)(31.3,10.5)(31.5,9.3)(31.8,10.8)(32.0,10.0)(32.3,11.2)(32.5,10.4)(32.8,11.6)
(33.0,10.2)(33.2,11.0)(33.4,12.0)(34.0,7.8)(34.3,8.6)(34.6,7.2)(34.9,9.0)(35.1,7.0)(35.2,18.0)(35.4,8.4)};
\addplot[mup=mue] coordinates {
(4.4,8.6)(4.6,10.9)(4.8,11.3)(5.1,12.9)(5.4,13.2)(5.65,11.1)(5.9,12.4)(6.15,11.0)(6.4,10.4)(6.65,11.6)(6.9,10.0)(7.15,10.8)(7.65,10.3)(7.9,11.4)
(8.15,10.0)(8.4,11.0)(8.65,9.7)(8.9,10.8)(9.15,10.3)(9.4,9.6)(9.65,10.7)(9.9,9.9)(10.15,10.9)(10.4,10.1)(10.65,9.6)(10.9,10.8)
(11.15,10.2)(11.4,11.4)(11.65,11.0)(11.9,9.8)(12.15,10.5)(12.4,9.6)(12.65,10.9)(12.9,10.1)(13.15,9.9)(13.4,11.0)(13.65,10.3)(13.9,10.8)
(14.15,9.7)(14.4,10.6)(14.65,10.1)(15.15,11.2)(15.4,10.4)(15.65,11.8)(15.9,11.0)(16.15,10.7)(16.4,11.5)(16.65,10.4)(16.9,11.1)
(17.15,10.2)(17.4,10.8)(17.65,9.9)(17.9,10.9)(18.15,10.1)(18.4,11.1)(18.65,9.8)(18.9,10.6)(19.15,10.4)(19.4,9.7)(19.65,10.5)(19.9,10.0)
(20.15,10.5)(20.4,9.9)(20.65,9.5)(20.9,10.4)(21.15,10.0)(21.4,10.7)(21.65,9.8)(21.9,10.4)(22.15,9.9)(22.4,10.6)(22.65,9.6)(22.9,10.3)
(23.15,10.1)(23.4,9.5)(23.65,10.4)(23.9,9.8)(24.15,9.9)(24.4,9.4)(24.65,10.2)(24.9,9.6)(25.1,9.9)(26.2,7.2)(26.4,9.2)(26.65,10.8)(26.9,10.9)
(27.15,11.3)(27.4,10.5)(27.65,11.5)(27.9,10.2)(28.15,10.6)(28.4,9.9)(28.65,10.3)(28.9,9.7)(29.15,10.1)(29.4,9.6)(29.65,10.4)(29.9,9.5)
(30.2,9.9)(30.65,9.6)(30.9,9.2)(31.15,10.1)(31.4,9.8)(31.65,10.3)(31.9,9.9)(32.15,10.6)(32.4,10.0)(32.65,11.0)(32.9,10.7)
(33.1,11.4)(33.3,10.6)(34.15,8.2)(34.45,7.9)(34.75,8.8)};
\bracket
\node[font=\labfont, anchor=east, inner sep=0] at (axis cs:3.66,9.3) {MU 5};
\end{axis}

\begin{axis}[muax, at={(155pt,257pt)}]
\addplot[mup=muf] coordinates {
(4.2,7.3)(4.4,9.8)(4.5,4.9)(4.7,10.6)(4.9,20.0)(5.0,12.4)(5.2,14.6)(5.3,11.2)(5.5,13.0)(5.6,17.0)(5.8,11.8)
(6.0,12.5)(6.3,10.9)(6.5,16.1)(6.6,23.4)(6.8,11.6)(7.0,10.4)(7.3,12.2)(7.5,10.8)(7.8,12.8)(8.0,11.4)(8.3,14.6)(8.5,12.9)(8.8,11.0)
(9.0,13.5)(9.3,7.8)(9.4,11.7)(9.7,12.6)(10.0,10.6)(10.3,11.9)(10.5,10.3)(10.8,12.1)(11.0,11.0)(11.3,9.9)(11.5,11.6)(11.8,10.5)
(12.0,11.8)(12.3,10.2)(12.5,11.3)(12.8,9.8)(13.0,11.1)(13.3,10.4)(13.5,12.0)(13.8,10.7)(14.0,9.9)(14.3,11.4)(14.5,10.1)(14.8,11.7)
(15.0,10.6)(15.3,9.7)(15.5,11.2)(15.8,10.3)(16.0,11.5)(16.2,17.5)(16.4,10.8)(16.7,12.0)(17.0,10.5)(17.3,11.6)(17.5,9.8)(17.9,17.2)
(18.0,11.0)(18.3,10.1)(18.5,11.9)(18.8,10.4)(19.0,11.3)(19.2,22.0)(19.3,10.0)(19.5,11.7)(19.8,10.6)(20.0,11.8)(20.3,10.3)(20.6,17.0)(20.7,11.1)
(21.0,10.2)(21.3,11.5)(21.5,9.9)(21.8,11.2)(22.0,10.5)(22.3,11.8)(22.5,10.0)(22.8,11.3)(23.0,10.7)(23.3,9.6)(23.5,11.4)(23.8,10.1)
(24.0,11.6)(24.3,10.3)(24.5,11.0)(24.8,12.4)(25.0,10.8)(25.1,17.0)(25.3,11.5)(25.6,10.2)(26.0,11.9)(26.3,13.8)(26.5,15.0)(26.8,12.6)
(27.0,11.4)(27.3,12.9)(27.5,10.8)(27.8,12.2)(28.0,11.1)(28.3,10.2)(28.5,11.7)(28.8,10.5)(29.0,11.5)(29.3,10.0)(29.5,11.9)(29.8,10.7)
(30.0,11.2)(30.3,10.1)(30.5,11.6)(30.8,10.4)(30.9,25.9)(30.95,22.0)(31.0,11.8)(31.3,10.6)(31.5,12.1)(31.8,14.8)
(32.0,15.9)(32.3,13.2)(32.5,14.1)(32.8,12.5)(33.0,11.4)(33.3,13.0)(33.5,10.9)(33.8,12.3)(34.0,10.8)(34.3,11.9)(34.5,10.2)(34.8,11.0)
(35.0,9.6)(35.2,14.6)(35.2,6.3)(35.4,5.4)};
\addplot[mup=muf] coordinates {
(4.3,8.2)(4.6,7.8)(4.8,11.5)(5.1,13.3)(5.4,12.1)(5.7,14.0)(5.9,12.3)(6.15,13.4)(6.4,11.7)(6.7,12.8)(6.9,10.9)(7.15,11.9)(7.4,10.6)(7.65,11.5)(7.9,13.4)
(8.15,12.3)(8.4,13.8)(8.65,12.0)(8.9,12.7)(9.15,12.0)(9.5,10.9)(9.85,11.4)(10.15,11.5)(10.4,10.0)(10.65,11.3)(10.9,10.8)
(11.15,10.4)(11.4,11.9)(11.65,10.2)(11.9,11.4)(12.15,10.8)(12.4,11.9)(12.65,10.4)(12.9,11.2)(13.15,10.0)(13.4,11.6)(13.65,10.9)(13.9,11.5)
(14.15,10.6)(14.4,9.8)(14.65,11.1)(14.9,10.4)(15.15,11.5)(15.4,10.3)(15.65,10.9)(15.9,11.8)(16.1,10.6)(16.35,11.9)(16.55,10.2)(16.85,11.4)
(17.15,11.0)(17.4,10.4)(17.65,11.5)(17.8,10.7)(18.15,11.6)(18.4,10.5)(18.65,11.3)(18.9,9.9)(19.1,10.8)(19.4,11.2)(19.65,10.3)(19.9,11.4)
(20.15,10.8)(20.45,11.5)(20.8,10.4)(20.9,11.6)(21.15,11.0)(21.4,10.4)(21.65,11.6)(21.9,10.6)(22.15,11.3)(22.4,10.3)(22.65,11.5)(22.9,10.8)
(23.15,11.4)(23.4,10.7)(23.65,10.2)(23.9,11.2)(24.15,10.5)(24.4,11.5)(24.65,11.8)(24.9,11.2)(25.2,10.4)(25.45,11.2)(25.8,10.9)
(26.15,12.6)(26.4,14.6)(26.65,13.7)(26.9,12.0)(27.15,12.5)(27.4,11.6)(27.65,12.6)(27.9,11.5)(28.15,11.8)(28.4,11.0)(28.65,10.6)(28.9,11.4)
(29.15,10.6)(29.4,11.2)(29.65,10.4)(29.9,11.6)(30.15,10.7)(30.4,11.6)(30.65,10.9)(31.15,11.2)(31.4,11.9)(31.65,13.4)(31.9,15.3)
(32.15,14.6)(32.4,13.7)(32.65,12.9)(32.9,13.6)(33.15,12.4)(33.4,11.7)(33.65,12.8)(33.9,11.3)(34.15,11.5)(34.4,10.6)(34.65,11.7)(34.9,10.3)(35.1,10.9)};
\bracket
\node[font=\labfont, anchor=east, inner sep=0] at (axis cs:3.66,9.3) {MU 6};
\end{axis}

\begin{axis}[muax, at={(155pt,306pt)}]
\addplot[mup=mug] coordinates {
(18.8,9.3)(19.0,5.9)(19.2,14.1)(19.4,7.8)(19.6,11.7)(19.8,8.6)(20.0,10.5)(20.2,7.6)(20.4,9.8)(20.6,13.7)(20.8,8.2)(21.0,10.2)(21.3,7.5)(21.5,9.1)(21.8,8.0)
(22.0,9.4)(22.3,7.7)(22.5,8.9)(22.8,7.3)(23.0,8.6)(23.3,9.8)(23.5,7.9)(23.8,9.0)(24.0,8.1)(24.3,9.5)(24.5,7.6)(24.8,8.8)
(25.0,9.7)(25.3,8.2)(25.5,9.1)(25.8,7.8)(26.0,8.9)(26.3,7.5)(26.5,9.3)(26.8,8.4)(27.0,7.9)(27.2,3.4)(27.4,8.7)(27.6,15.1)(27.8,8.0)
(28.0,9.2)(28.3,7.7)(28.5,8.8)(28.8,9.6)(29.0,8.1)(29.3,9.0)(29.5,7.6)(29.8,8.5)(30.0,9.4)(30.2,13.7)(30.3,8.0)(30.5,9.1)(30.6,13.5)(30.8,7.8)
(31.0,8.7)(31.3,9.9)(31.5,8.2)(31.8,9.3)(32.0,8.4)(32.1,15.1)(32.3,9.6)(32.6,3.9)(32.7,8.9)(32.9,22.9)
(33.0,9.8)(33.3,15.1)(33.4,8.3)(33.6,10.4)(33.8,9.0)(34.0,10.6)(34.2,8.7)(34.4,9.5)(34.75,2.9)};
\addplot[mup=mug] coordinates {
(19.1,8.4)(19.3,10.4)(19.5,9.2)(19.7,7.3)(19.9,10.0)(20.1,8.9)(20.3,11.0)(20.5,8.4)(20.7,10.2)(20.9,9.0)(21.15,8.3)(21.4,9.7)(21.65,8.6)(21.9,9.4)
(22.15,8.2)(22.4,9.1)(22.65,7.9)(22.9,8.7)(23.15,9.2)(23.4,8.1)(23.65,9.5)(23.9,8.3)(24.15,8.9)(24.4,7.8)(24.65,9.3)(24.9,8.2)
(25.15,8.7)(25.4,9.6)(25.65,8.4)(25.9,9.2)(26.15,8.0)(26.4,8.8)(26.65,7.7)(26.9,9.0)(27.15,8.6)(27.5,9.3)(27.9,8.9)
(28.15,8.3)(28.4,9.4)(28.65,8.0)(28.9,8.7)(29.15,9.5)(29.4,8.4)(29.65,9.1)(29.9,7.9)(30.15,8.8)(30.4,10.1)(30.7,9.6)(30.9,8.5)
(31.15,9.3)(31.4,8.1)(31.65,9.7)(31.9,8.6)(32.2,9.1)(32.45,8.0)(32.8,9.4)(33.1,8.8)(33.5,9.7)(33.7,11.2)(33.9,8.6)(34.1,9.9)(34.3,8.8)};
\bracket
\node[font=\labfont, anchor=east, inner sep=0] at (axis cs:18.53,8.3) {MU 7};
\end{axis}

\begin{axis}[muax, at={(155pt,354pt)}]
\addplot[mup=muh] coordinates {
(28.9,2.9)(29.1,4.4)(29.3,11.2)(29.5,12.5)(29.7,14.0)(29.9,8.8)(30.0,13.0)(30.1,11.8)(30.2,15.3)(30.4,12.6)(30.6,14.4)(30.8,13.1)
(31.0,9.8)(31.1,15.0)(31.3,13.7)(31.5,6.3)(31.6,14.8)(31.8,12.9)(32.0,15.6)(32.06,23.4)(32.2,13.4)(32.4,14.9)(32.6,12.3)(32.8,16.1)(32.9,27.0)
(33.0,14.0)(33.2,15.4)(33.3,25.0)(33.4,13.2)(33.6,15.8)(33.8,13.6)(34.0,14.7)(34.2,12.8)(34.4,14.2)(34.6,13.0)};
\addplot[mup=muh] coordinates {
(29.4,12.0)(29.6,13.2)(29.8,12.1)(30.05,14.3)(30.3,12.9)(30.5,15.0)(30.7,13.5)(30.9,14.6)(31.2,12.4)(31.4,14.2)(31.7,13.3)(31.9,15.1)
(32.1,14.1)(32.3,12.6)(32.5,15.4)(32.7,13.9)(33.1,12.8)(33.35,14.6)(33.5,16.0)(33.7,14.1)(33.9,15.2)(34.1,13.3)(34.3,15.1)(34.5,13.8)};
\bracket
\node[font=\labfont, anchor=east, inner sep=0] at (axis cs:28.24,8.8) {MU 8};
\end{axis}
\end{tikzpicture}
\end{document}
